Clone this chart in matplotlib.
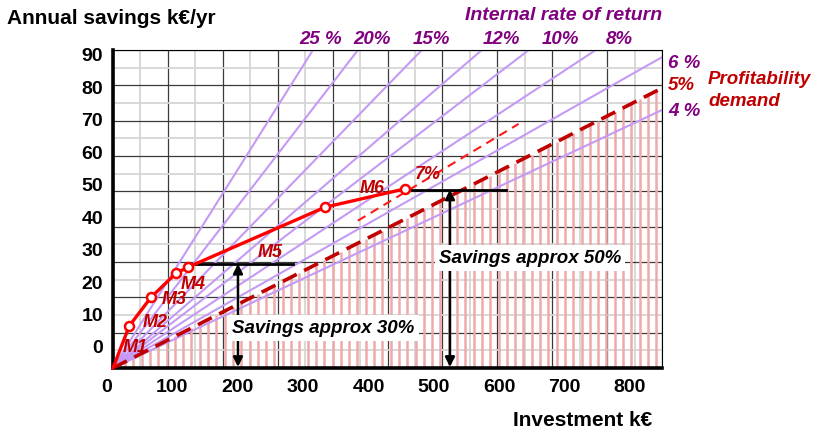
import numpy as np
import matplotlib
matplotlib.use('Agg')
import matplotlib.pyplot as plt
from matplotlib.ticker import MultipleLocator

plt.rcParams['font.family'] = ['Liberation Sans', 'DejaVu Sans']

# internal rate of return lines: annual savings per invested k€
irr_labels = ['25 %', '20%', '15%', '12%', '10%', '8%', '6 %', '4 %']
irr_slopes = [0.2907, 0.2373, 0.1882, 0.1576, 0.1398, 0.1204, 0.1035, 0.0859]
demand_slope = 0.0932   # 5 % profitability demand
seven_slope = 0.110     # 7 % helper line
seven_range = [379, 628]

# measures M1..M6 (cumulative investment k€, annual savings k€/yr)
invest = [0, 25.2, 58.8, 97.5, 115.6, 328.2, 452.0]
savings = [0, 11.9, 20.0, 26.8, 28.5, 45.5, 50.7]
m_labels = ['M1', 'M2', 'M3', 'M4', 'M5', 'M6']
m_label_pos = [(34, 5.7), (65, 13.0), (94, 19.5), (124, 23.5), (243, 32.8), (401, 50.9)]

# savings markers
sav30 = dict(x=193.5, y=29.5, x0=116, x1=279, text='Savings approx 30%', tx=326, ty=11.3)
sav50 = dict(x=521.7, y=50.5, x0=452, x1=608, text='Savings approx 50%', tx=646, ty=31.1)

xtick_vals = [0, 100, 200, 300, 400, 500, 600, 700, 800]
ytick_vals = [0, 10, 20, 30, 40, 50, 60, 70, 80, 90]

PURPLE = '#800080'
DARKRED = '#c00000'
LAV = '#c49af4'
PINK = '#eeaaaa'

W, H = 817, 433
fig = plt.figure(figsize=(W / 100, H / 100), dpi=100)
ax = fig.add_axes([113 / W, 1 - 368 / H, 549 / W, 318 / H])
ax.set_xlim(0, 850)
ax.set_ylim(0, 90)

# grid
ax.xaxis.set_major_locator(MultipleLocator(85))
ax.xaxis.set_minor_locator(MultipleLocator(42.5))
ax.yaxis.set_major_locator(MultipleLocator(10))
ax.yaxis.set_minor_locator(MultipleLocator(5))
ax.grid(which='minor', color='#d6d6d6', lw=1.3, zorder=0)
ax.grid(which='major', color='#3a3a3a', lw=0.9, zorder=1)
ax.set_axisbelow(True)
ax.tick_params(which='both', length=0, labelbottom=False, labelleft=False)
for s in ['left', 'bottom']:
    ax.spines[s].set_linewidth(2.6)
ax.spines['top'].set_linewidth(0.8)
ax.spines['right'].set_linewidth(0.8)

# pink hatching under the profitability demand line
xs = np.arange(5.8, 850, 12.85)
ax.vlines(xs, 0, demand_slope * xs, color=PINK, lw=1.8, zorder=1.2)

# IRR lines
xline = np.array([0, 850])
for s in irr_slopes:
    ax.plot(xline, s * xline, color=LAV, lw=1.5, zorder=2)
ax.plot(xline, demand_slope * xline, color=DARKRED, lw=2.6, dashes=(4.3, 2.3), zorder=3)
xr = np.array(seven_range)
ax.plot(xr, seven_slope * xr, color='#ff1a1a', lw=1.5, dashes=(4.3, 2.9), zorder=3)

# savings markers
for d in (sav30, sav50):
    ax.plot([d['x0'], d['x1']], [d['y'], d['y']], color='black', lw=2, zorder=4)
    ax.annotate('', xy=(d['x'], 0.3), xytext=(d['x'], d['y']),
                arrowprops=dict(arrowstyle='<|-|>', color='black', lw=1.8,
                                mutation_scale=14, shrinkA=0, shrinkB=0), zorder=4)
    ax.text(d['tx'], d['ty'], d['text'], fontsize=13.5, fontweight='bold', style='italic',
            ha='center', va='center', zorder=6,
            bbox=dict(facecolor='white', edgecolor='none', pad=3))

# measures curve
ax.plot(invest, savings, color='#ff0000', lw=2.4, zorder=5, clip_on=False)
ax.plot(invest[1:], savings[1:], 'o', ms=6.5, mfc='white', mec='#ff0000', mew=1.8, zorder=5)
for lab, (x, y) in zip(m_labels, m_label_pos):
    ax.text(x, y, lab, color=DARKRED, fontsize=13, fontweight='bold', style='italic',
            ha='center', va='center', zorder=5)
ax.text(488, 54.9, '7%', color=DARKRED, fontsize=13, fontweight='bold', style='italic',
        ha='center', va='center', zorder=5)

# tick labels (offset as in the original figure)
for v in xtick_vals:
    ax.text(v * 1.012 - 9.3, -0.06, str(v), transform=ax.get_xaxis_transform(),
            ha='center', va='center', fontsize=14, fontweight='bold')
for v in ytick_vals:
    ax.text(-0.018, 5.4 + 0.918 * v, str(v), transform=ax.get_yaxis_transform(),
            ha='right', va='center', fontsize=14, fontweight='bold')

# axis titles
fig.text(7 / W, 1 - 18 / H, 'Annual savings k€/yr', fontsize=15, fontweight='bold',
         ha='left', va='center')
fig.text(652 / W, 1 - 420 / H, 'Investment k€', fontsize=15, fontweight='bold',
         ha='right', va='center')
fig.text(662 / W, 1 - 15 / H, 'Internal rate of return', fontsize=14, fontweight='bold',
         style='italic', color=PURPLE, ha='right', va='center')

# IRR labels
top_pos = [(321, 39), (371.5, 39), (431, 39), (501.5, 40), (560, 40), (619, 40)]
for lab, (px, py) in zip(irr_labels[:6], top_pos):
    fig.text(px / W, 1 - py / H, lab, fontsize=13.5, fontweight='bold', style='italic',
             color=PURPLE, ha='center', va='center')
fig.text(668 / W, 1 - 63 / H, irr_labels[6], fontsize=13.5, fontweight='bold',
         style='italic', color=PURPLE, ha='left', va='center')
fig.text(668 / W, 1 - 86 / H, '5%', fontsize=13.5, fontweight='bold',
         style='italic', color=DARKRED, ha='left', va='center')
fig.text(668 / W, 1 - 112 / H, irr_labels[7], fontsize=13.5, fontweight='bold',
         style='italic', color=PURPLE, ha='left', va='center')
fig.text(708 / W, 1 - 80 / H, 'Profitability', fontsize=13.5, fontweight='bold',
         style='italic', color=DARKRED, ha='left', va='center')
fig.text(708 / W, 1 - 102 / H, 'demand', fontsize=13.5, fontweight='bold',
         style='italic', color=DARKRED, ha='left', va='center')

fig.savefig('out.png', dpi=100)
